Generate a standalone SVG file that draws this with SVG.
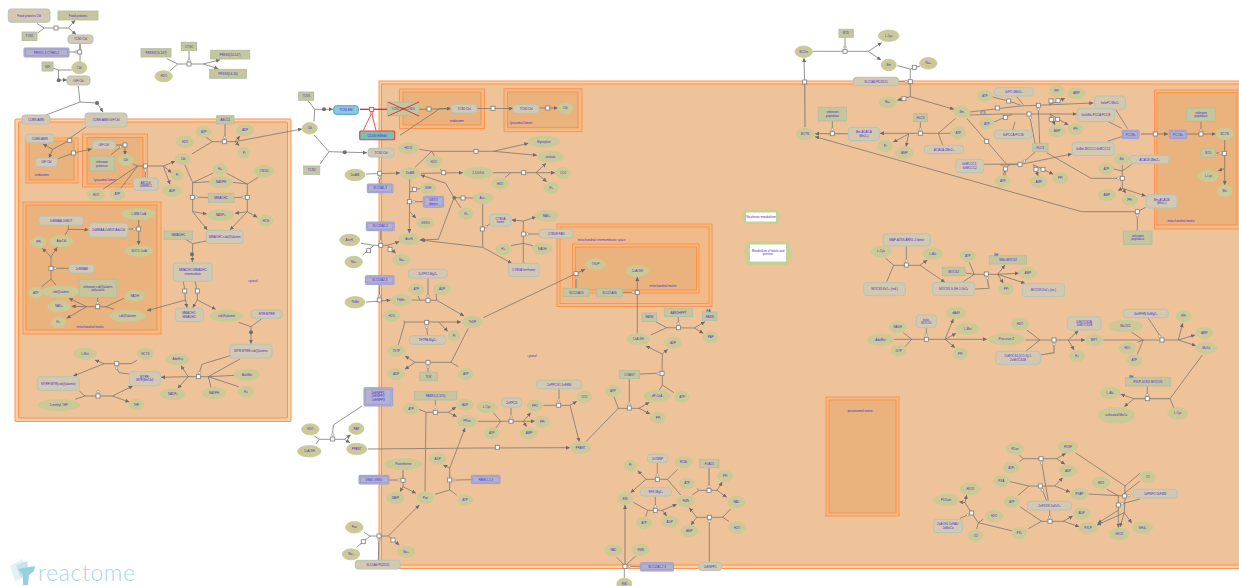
<svg xmlns="http://www.w3.org/2000/svg" xmlns:xlink="http://www.w3.org/1999/xlink" width="1239" height="586" viewBox="0 0 1239 586">
<style>
text{font-family:"Liberation Sans",Arial,sans-serif;font-size:3px;fill:#3f30d8;text-anchor:middle}
.co1{fill:#f7d3ac;stroke:#ff9350;stroke-width:1}
.co2{fill:#efc39a;stroke:#ff8f45;stroke-width:1}
.co3{fill:#f0bb88;stroke:#ff934d;stroke-width:1}
.co4{fill:#eab27c;stroke:#ff8f45;stroke-width:1}
.e{fill:#cdc996;stroke:#c3cc98;stroke-width:.9}
.p{fill:#c6c59c;stroke:#aebfa4;stroke-width:.9}
.c{fill:#d3c9b0;stroke:#b5c3b6;stroke-width:1}
.s{fill:#b4b2d0;stroke:#9c9fd2;stroke-width:1}
.si{fill:none;stroke:#8f92c2;stroke-width:.5}
.l,.a,.t{fill:none;stroke:#737270;stroke-width:.75}
.t{stroke:#94897a;stroke-width:1.2}
.a{marker-end:url(#ar)}
.rd{fill:none;stroke:#e8222a;stroke-width:.8}
.d{fill:#6f6f6d}
</style>
<defs>
<marker id="ar" markerUnits="userSpaceOnUse" markerWidth="5" markerHeight="5" refX="4" refY="2" orient="auto"><path d="M0 0L4 2L0 4Z" fill="#6b6b69"/></marker>
<rect id="r" x="-2" y="-2" width="4" height="4" fill="#fff" stroke="#7a7a78" stroke-width=".8"/>
<circle id="o" r="1.2" fill="#fff" stroke="#7a7a78" stroke-width=".6"/>
</defs>
<g id="compartments">
<rect class="co1" x="15" y="119" width="276" height="302.500" rx="1"/><rect class="co2" x="18.500" y="122" width="269" height="296" rx="1"/>
<rect class="co3" x="26" y="138" width="52" height="45"/><rect class="co4" x="29" y="141" width="45" height="39"/>
<rect class="co3" x="82.500" y="134" width="65" height="53"/><rect class="co4" x="87" y="137.500" width="56" height="46.500"/>
<rect class="co3" x="23" y="202" width="138" height="132"/><rect class="co4" x="26" y="205" width="131" height="125"/>
<rect class="co1" x="379" y="81" width="870" height="487.500"/><rect class="co2" x="381.500" y="84" width="870" height="481"/>
<rect class="co3" x="399.500" y="89" width="85" height="39.500"/><rect class="co4" x="403" y="92" width="78" height="33"/>
<rect class="co3" x="504" y="88.700" width="78" height="43"/><rect class="co4" x="507.500" y="92" width="70.500" height="35.700"/>
<rect class="co3" x="557" y="224" width="155" height="82.500"/><rect class="co3" x="560" y="227" width="149" height="76.500"/>
<rect class="co3" x="572.500" y="244" width="126.500" height="49"/><rect class="co4" x="575.500" y="247" width="121" height="43"/>
<rect class="co3" x="826" y="397" width="73" height="119"/><rect class="co4" x="829" y="400" width="67" height="113"/>
<rect class="co3" x="1154.500" y="90" width="90" height="139"/><rect class="co4" x="1157" y="92.700" width="80" height="132.300"/>
<text x="42" y="176">endosome</text><text x="105" y="181">lysosomal lumen</text><text x="90" y="327.500">mitochondrial matrix</text><text x="253" y="282">cytosol</text>
<text x="457" y="122">endosome</text><text x="521" y="124">lysosomal lumen</text><text x="601.700" y="241">mitochondrial intermembrane space</text><text x="663" y="287">mitochondrial matrix</text><text x="532" y="357">cytosol</text><text x="860" y="412">peroxisomal matrix</text><text x="1181" y="222">mitochondrial matrix</text>
</g>
<g id="connectors">
<path class="l" d="M37 23.500L44.300 28M37.700 33L44.300 28L68.500 28"/><path class="a" d="M68.500 28L75 20"/><path class="a" d="M68.500 28L76 34.500"/>
<path class="l" d="M69 52L76 52M80 43.500L80 63M58.300 70L53 68M72 70L58.300 70"/><path class="t" d="M80 43.500L80 50"/>
<path class="a" d="M58.300 70L58.700 80L67 80"/><circle class="d" cx="58.700" cy="80.300" r="2"/>
<path class="l" d="M78.300 86L80 102M46 115L80 102L97 103"/><path class="a" d="M97 103L103 112"/><circle class="d" cx="97" cy="103" r="2"/>
<path class="l" d="M166.700 58.500L177.700 64M170 70.700L177.700 64L203.300 64M189 50.700L189 60"/><path class="a" d="M203.300 64L220 59.700"/><path class="a" d="M203.300 64L218.300 68.700"/>
<path class="l" d="M225 124L225 137M191.700 154L212.300 141.700M203.700 135.500L212.300 141.700L235 141.700"/><path class="a" d="M235 141.700L240 136"/><path class="a" d="M235 141.700L239.300 145.700"/><path class="a" d="M235 141.700L302 129"/>
<path class="l" d="M86 127L69.700 138.300M69.700 140.300L52.700 149.300"/><path class="a" d="M52.700 149.300L43 144"/><path class="a" d="M52.700 149.300L49 158"/>
<path class="l" d="M58.300 158.700L73.300 153"/><path class="a" d="M73.300 153L91.700 149"/>
<path class="t" d="M115.500 145L125 145"/><path class="l" d="M111 154.700L120.700 147"/><path class="a" d="M125 146.700L125 155"/>
<path class="l" d="M132.700 164L137.700 166L163.300 166M145.300 177.500L145.300 172M103.300 189L137.700 166M120.700 188.500L137.700 166"/><path class="a" d="M163.300 166L175 161.300"/><path class="a" d="M163.300 166L171.700 172.700"/><path class="a" d="M163.300 166L170 184.300"/>
<path class="l" d="M185 165L192.700 182.700M213.300 173L192.700 182.700M210 181.700L192.700 182.700M226.700 173.300L247.300 184M232.300 182.300L247.300 184M258.300 177.300L247.300 184M192.700 182.700L192.300 197.300M247.300 184L247.300 197.300M208 197.500L197.800 197.300M234 197.500L242.200 197.300M192.700 197.300L192.700 211.700M247.300 197.300L247.300 211.700"/>
<path class="a" d="M192.700 211.700L206.700 214"/><path class="a" d="M192.700 211.700L207.300 230"/><path class="a" d="M247.300 211.700L235 213.300"/><path class="a" d="M247.300 211.700L230 230"/><path class="a" d="M247.300 211.700L257.300 217.300"/>
<path class="l" d="M206 241L192.700 243.700M185 239L192.700 243.700"/><path class="a" d="M192.700 243.700L192.300 262"/><circle class="d" cx="192" cy="254.300" r="2"/>
<path class="l" d="M183.300 281.500L185 291L185.300 300M195 281.500L197.300 291L197.300 300"/><path class="a" d="M185.500 300L147 310.700"/><path class="a" d="M185.500 300L187 307.700"/><path class="a" d="M197.300 300L192.700 307.700"/><path class="a" d="M197.300 300L215.700 309.300"/>
<path class="l" d="M238.700 322.300L251 326.700M261.700 318.700L251 326.700"/><path class="a" d="M251 326.700L251 343.700"/><circle class="d" cx="251" cy="332.300" r="2"/>
<path class="l" d="M240 359L208.300 376.700M235 375.300L208.300 376.700M211 387.300L208.300 376.700M238.700 386.700L208.300 376.700M230 355.700L202 364.300L199.300 372.700"/><path class="l" d="M208.300 376.700L188.300 376.700"/><path class="a" d="M188.300 376.700L161 377.300"/><path class="a" d="M188.300 376.700L181 365.700"/><path class="a" d="M188.300 376.700L177.700 388.300"/>
<path class="l" d="M137.300 360L131 363.700L104 363.700M129.300 374L119.300 372.700L116.700 368.300"/><path class="a" d="M104 363.700L95 360"/><path class="a" d="M104 363.700L73.300 376"/>
<path class="l" d="M79.300 391L85 396M75 399.300L85 396L112.300 396"/><path class="a" d="M112.300 396L132.700 386"/><path class="a" d="M112.300 396L129.300 402"/>
<path class="l" d="M68.300 225L68.300 229.300M65 235L68.300 229.300"/><path class="a" d="M68.300 229.300L88.500 229.700"/>
<path class="l" d="M128 229L134.300 229M138.700 219.500L138.700 229"/><path class="a" d="M138.700 229L138.700 245"/>
<path class="l" d="M51 268.300L51 256.700M51 268.300L51 279.300L41.700 286.700M51 279.300L56 285M69 268.300L55.300 268.300"/><path class="a" d="M51 256.700L42.300 248.300"/><path class="a" d="M51 256.700L57.300 247.300"/>
<path class="l" d="M86.700 306.700L106 306.700M124 298.300L106 306.700M114 309.300L106 306.700M97.700 302.700L97.700 297.700"/><path class="a" d="M86.700 306.700L69 298.300"/><path class="a" d="M86.700 306.700L71.700 306.300"/><path class="a" d="M86.700 306.700L66.700 318.300"/>
<path class="l" d="M308.300 101L314.700 109.300M314 121.700L314.700 109.300"/><path class="a" d="M314.700 109.300L333 109.300"/><circle class="d" cx="324" cy="109.300" r="2"/>
<path class="l" d="M314 135L329 151.700M320 164L329 151.700"/><path class="a" d="M329 151.700L367 152.700"/><circle class="d" cx="344.700" cy="152.300" r="2"/>
<path d="M360 109.300L387 109.300" fill="none" stroke="#e8222a" stroke-width="1.300"/><path class="rd" d="M363.300 130.500L371.700 113L376 130.500"/>
<path class="t" d="M419 109.300L451 108.700"/><path class="l" d="M400 135.300L440 108.500"/><path class="a" d="M440 108.500L451 108.500"/>
<path class="a" d="M477 108.500L513 108.500"/><path class="a" d="M539 108L557.500 108"/>
<path class="l" d="M419.300 149.300L431.700 151.300L493.300 151.300M415 167.300L431.700 151.300M435 156.700L431.700 151.300"/><path class="a" d="M493.300 151.300L528.300 143.300"/><path class="a" d="M493.300 151.300L537 155.300"/>
<path class="a" d="M366 174L400 173"/><path class="a" d="M421 173.300L463 172.700"/><path class="l" d="M440 169L443.700 172.700M379.700 179L379.700 184M492.700 172.700L536 172.700M505 177.700L510.700 172.700"/><path class="a" d="M536 172.700L546 163.300"/><path class="a" d="M536 172.700L555 172.700"/><path class="a" d="M536 172.700L546.700 181.700"/>
<path class="a" d="M409.700 179L409.300 233"/><path class="l" d="M414.300 191L410 192M420.500 188.500L416.500 189.300M414 201.700L423 201.700"/><path class="a" d="M410 212L416 218.300"/>
<path class="l" d="M473 198L454 197.700M461 208L454 197.700"/><path class="a" d="M454 197.700L445.700 183.300L420.700 175"/><path class="a" d="M454 197.700L438.300 239.300L419.700 240"/><circle class="d" cx="454.300" cy="197.700" r="1.800"/>
<path class="l" d="M482.700 204L482.700 247.300M486 226.700L491 223"/><path class="a" d="M482.700 247.300L421 240"/><path class="a" d="M482.700 247.300L511.700 263.300"/>
<path class="l" d="M523.300 221L523.300 263M511 245.700L523.300 243.300L533 245.700M527.700 234L539 234"/><path class="a" d="M523.300 221L511.700 220"/><path class="a" d="M523.300 221L536 217"/>
<path class="l" d="M361 243.300L374 245.300M362.700 255L374 245.300M374 245.300L387.300 245.300M380.700 231L380.700 241"/><path class="a" d="M387.300 245.300L399.300 241.700"/><path class="a" d="M387.300 245.300L395.700 253.300"/>
<path class="l" d="M379.300 284.500L379.300 296M428 278L428 296M411.700 300L436.700 300.300M418 296L420 300.300M436 294L436.700 300.300"/><path class="a" d="M366 302L390.500 300.300"/><path class="a" d="M436.700 300.300L464 316"/>
<path class="a" d="M405 322L461 322"/><path class="l" d="M398.300 345L405 322M403 321L405 322M427.500 335.500L426.700 327.300"/><path class="a" d="M439 322.300L447.700 331.300"/>
<path class="l" d="M415 362.300L451 362.300M451 362.300L468.300 328.300M451 362.300L458.300 366.700M428 372L428 367"/><path class="a" d="M415 362.300L405 356"/><path class="a" d="M415 362.300L405 369.300"/>
<path class="a" d="M483.300 317.700L585 269.300"/><path class="t" d="M576 278L576 288"/>
<path class="a" d="M637.300 333.300L637.300 277"/><path class="l" d="M623 292.300L631.700 292.300"/>
<path class="l" d="M678.300 316.700L678.300 323M655.700 321.700L666.700 327.700M650.700 335L666.700 327.700L694.300 328"/><path class="a" d="M694.300 328L705 321.700"/><path class="a" d="M694.300 328L703.300 333.300"/>
<path class="l" d="M640 374L657 373.300M662 373.300L662.300 354M662.300 373.300L662.300 385M662.300 385L659.300 390M662.300 385L674 392.700"/><path class="a" d="M662.300 354L646 346"/><path class="a" d="M662.300 354L667.700 349.300"/>
<path class="l" d="M629.300 379L629.300 402M618.300 408.300L639 408.300M614 397L618.300 408.300M618.300 408.300L586 441.700"/><path class="a" d="M639 408.300L649.300 402.300"/><path class="a" d="M639 408.300L650 414"/>
<path class="l" d="M559 389L559 399M543.300 405.300L570 405.300"/><path class="a" d="M570 405.300L576.700 401.300"/><path class="a" d="M570 405.300L579.300 441.700"/>
<path class="l" d="M511 407.500L511 415M478 421.300L523.300 421.300M493.300 412.700L500.700 421.300M495 429.300L500.700 421.300"/><path class="a" d="M523.300 421.300L530.700 412.700"/><path class="a" d="M523.300 421.300L535 421.300"/><path class="a" d="M523.300 421.300L526.500 426.700"/>
<path class="l" d="M435.300 400L435.300 405M418.300 409L426 412.300L448.300 412.300M426 412.300L425 491.700"/><path class="a" d="M448.300 412.300L456 407"/><path class="a" d="M448.300 412.300L456.700 416.700"/>
<path class="l" d="M362 406L333.300 425L332.700 433M314.300 436L319.300 439.300M316 444L319.300 439.300L344.300 439.300"/><path class="a" d="M344.300 439.300L350.700 435"/><path class="a" d="M344.300 439.300L350 442.700"/>
<path class="t" d="M367.700 449L480 448"/><path class="a" d="M480 448L570 447.700"/>
<path class="t" d="M403 470L403 480"/><path class="l" d="M389 480L397.500 480M403 480L403 486.700"/><path class="a" d="M403 486.700L400 491.700"/><path class="a" d="M403 486.700L416 493.300"/>
<path class="l" d="M435 494.300L449.700 490M456.700 495L449.700 490L449.700 468.300M455.500 480L471.500 479.700"/><path class="a" d="M449.700 468.300L443.300 465"/><path class="a" d="M449.700 468.300L465 428"/>
<path class="l" d="M364 532.300L370 536M356.700 547.300L370 536L388.300 536M378.300 560L378.800 541"/><path class="a" d="M388.300 536L419.300 505"/><path class="a" d="M388.300 536L399.300 545"/>
<path class="l" d="M657.300 462.700L657.300 473.500M646 479.300L667.300 479.300L677.700 469.300M667.300 479.300L680.700 495"/><path class="a" d="M646 479.300L637.700 470.700"/><path class="a" d="M646 479.300L630.700 492.700"/>
<path class="l" d="M655.300 496.500L655.300 505M633.300 502.300L647.700 510.300M645.700 516.700L647.700 510.300L662.300 510.300"/><path class="a" d="M662.300 510.300L676.700 504.300"/><path class="a" d="M662.300 510.300L666.700 516"/>
<path class="t" d="M709 468L709 485"/><path class="l" d="M692.300 495L699 490.300L717 490.300M696.700 488.300L699 490.300"/><path class="a" d="M717 490.300L722.300 482"/><path class="a" d="M717 490.300L726.700 497.300"/>
<path class="l" d="M709.300 561.700L709.300 522.500M696.700 517.300L722.700 517.300L730.700 509M722.700 517.300L729.300 521.700"/><path class="a" d="M696.700 517.300L689.300 507.700"/><path class="a" d="M696.700 517.300L691 525"/>
<path class="t" d="M625 566L625 520"/><path class="a" d="M625 520L625 505"/><path class="l" d="M616.700 557.300L625 566M635.700 556L625 566M624.300 578L624.300 569M630.500 566.300L640 566.700"/>
<path class="l" d="M813 51.300L868.300 51.300M845 38L845 45.800"/><path class="a" d="M868.300 51.300L881.700 42.700"/><path class="a" d="M868.300 51.300L881 60"/>
<path class="t" d="M805 127L804.700 85"/><path class="a" d="M804.700 85L804 58"/>
<path class="l" d="M897.300 65.700L910.300 69L920 66M910.300 69L910.300 96.700M898.500 81.700L904.800 81.700"/><path class="a" d="M910.300 96.700L954 109.300"/><path class="a" d="M910.300 96.700L897.300 100.300"/>
<path class="l" d="M955.700 118.300L938.300 133.300M950.700 133.300L938.300 133.300M938.300 133.300L942.700 145M920.400 122L920.300 127.800"/><path class="a" d="M938.300 133.300L880 133.300"/><path class="a" d="M908.700 134L893.300 142"/><path class="a" d="M908.700 134L906 146.700"/>
<path class="l" d="M832.300 121L832.300 128"/><path class="t" d="M848 133.700L825 133.700"/><path class="a" d="M825 133.700L815 133.700"/>
<path class="a" d="M1137.300 211.700L1081.700 211.700L815 136.700"/><path class="l" d="M1145.700 207.300L1137.300 211.700M1137.300 231L1137.300 216.800"/>
<path class="l" d="M966.700 118.300L1006.700 164.300M984 164.300L1020 164M1005.300 171L1005.300 175.500"/>
<path class="t" d="M970 112L1020 106"/><path class="a" d="M1020 106L1093.300 103"/><path class="t" d="M969.500 115L1000 114"/><path class="a" d="M1000 114L1076.700 114"/>
<path class="l" d="M992.300 97L1009 101L1020 105M994 122L1005 117.300L1012 114.500M1016.700 96.700L1023.300 104.700M1015 121.700L1012.700 130"/>
<path class="l" d="M1039.700 143L1038.400 110.500M1035 143.300L1030.300 118.900M1035 152L1024.300 161.500"/>
<path class="a" d="M1049.300 104.700L1053 98.300"/><path class="a" d="M1049.300 104.700L1065 98.300"/><path class="a" d="M1050 114L1055 125"/><path class="a" d="M1050 114L1068.300 125"/><path class="a" d="M1033.300 164.700L1038.300 176"/><path class="a" d="M1033.300 164.700L1053.300 174.300"/>
<path class="t" d="M1000 165L1021 164.300"/><path class="a" d="M1021 164.300L1071.700 154"/><path class="l" d="M1003 176L1005.300 169L1010 164.300"/>
<path class="l" d="M1046.700 152.700L1091 178.300L1117 178.300M1122.300 165L1122.300 188.300M1131.700 164.300L1122.300 171M1114 169L1122.300 171"/><path class="a" d="M1122.300 188.300L1118 190.700"/><path class="a" d="M1122.300 188.300L1126 193.300"/><path class="a" d="M1122.300 188.300L1145.700 196"/>
<path class="l" d="M1108.300 121.700L1121.700 128.300M1116 110L1127.700 128.700M1107.300 141.300L1121.700 136.700"/>
<path class="t" d="M1141 134L1160 134"/><path class="a" d="M1160 134L1168 134"/><path class="t" d="M1187 134L1205 134"/><path class="a" d="M1205 134L1215.500 134"/><path class="l" d="M1201 122L1201 128.800M1216 153L1219 153"/>
<path class="a" d="M1224.700 140L1224.700 185"/><path class="a" d="M1224.300 168.700L1218.300 170.700"/>
<path class="l" d="M906.300 246L906.300 259.500M885.700 258.300L893.700 265.300M886.700 281.700L893.700 265.300L920 265.300"/><path class="a" d="M920 265.300L927.300 260"/><path class="a" d="M920 265.300L945 282.300"/>
<path class="l" d="M965.700 273L974.300 274.300M969.300 262.300L974.300 274.300M963.300 281.700L974.300 274.300L997.700 274.300"/><path class="a" d="M997.700 274.300L1005 265"/><path class="a" d="M997.700 274.300L1003.300 283.300"/><path class="a" d="M997.700 274.300L1019 273.300"/><path class="a" d="M997.700 274.300L1025 283.300"/><path class="t" d="M974.700 289L989 288.300L987.300 279.300"/>
<path class="l" d="M926.300 328L926.300 333.800M903.300 332.700L911.700 339.300M905 346.700L911.700 339.300M893.700 339.300L945 339.300"/><path class="a" d="M945 339.300L987 339.300"/><path class="a" d="M945 339.300L953.300 319"/><path class="a" d="M945 339.300L956 333.300"/><path class="a" d="M945 339.300L955 347.700"/>
<path class="t" d="M1025.700 340L1068 340"/><path class="l" d="M1026.700 330L1040 340M1026 351L1040 340"/><path class="a" d="M1068 340L1085 340"/><path class="a" d="M1068.300 340L1078.300 330.700"/><path class="a" d="M1068.300 340L1074 350"/><path class="t" d="M1040.700 355L1054 352.700L1054 345.300"/>
<path class="l" d="M1148.300 318.300L1159.700 335.300M1131.700 332.300L1143.300 340M1137.300 342.300L1143.300 340M1137.300 354.300L1143.300 340"/><path class="t" d="M1103.300 340L1178.300 340"/><path class="a" d="M1178.300 340L1182.700 323.300"/><path class="a" d="M1178.300 340L1195 335"/><path class="a" d="M1178.300 340L1195.700 345.700"/>
<path class="l" d="M1147.300 386L1147.300 393.500M1170 398.700L1202.300 355M1170 398.700L1174 408.300"/><path class="t" d="M1134 398.700L1170 398.700"/><path class="a" d="M1134 398.700L1120.700 394.300"/><path class="a" d="M1134 398.700L1124.300 406.700"/>
<path class="l" d="M1019.300 455L1023.300 458.700M1019.300 462L1023.300 458.700L1056.700 458.700M1041.700 463L1048.300 500.700"/><path class="a" d="M1056.700 458.700L1065.700 453.300"/><path class="a" d="M1056.700 458.700L1065 464.300"/>
<path class="l" d="M1010 481.700L1029 486M1017.700 495.700L1029 486L1054.700 486M1042.300 490L1046.700 500.700"/><path class="a" d="M1054.700 486L1062.700 477.700"/><path class="a" d="M1054.700 486L1070 492"/>
<path class="l" d="M1020 506.700L1041.700 521.300M1028.300 528.700L1041.700 521.300L1063.300 521.300M1049.700 510L1049.700 516"/><path class="a" d="M1063.300 521.300L1072.700 516"/><path class="a" d="M1063.300 521.300L1079.300 526.700"/>
<path class="l" d="M960 518.300L967.700 515M1012.700 531L978.300 522.700M983.300 519.300L978.300 522.700M976.700 529.300L978.300 522.700L971.700 513L965 502.700"/><path class="a" d="M965 502.700L959.300 501.700"/><path class="a" d="M965 502.700L966.700 495"/>
<path class="l" d="M1075.300 452.700L1125 486L1124.700 496M1140 473.300L1125 486M1140 481L1124.700 493M1106.700 489.300L1119 496M1140 499L1122.300 503.700"/><path class="t" d="M1088.300 494L1124.700 496"/>
<path class="a" d="M1125 498L1124.300 512.700L1120 527"/><path class="a" d="M1118.300 496L1118.300 527.500"/><path class="a" d="M1124.300 512.700L1097 525"/><path class="a" d="M1118.700 510L1097.700 523.300"/><path class="a" d="M1124.300 512.700L1131.700 523"/>
<g id="reaction-points">
<use href="#r" x="56" y="28"/><use href="#r" x="79.700" y="52"/><use href="#o" x="76" y="52"/>
<use href="#r" x="189" y="64"/><use href="#o" x="189" y="60.300"/>
<use href="#r" x="224.300" y="141.700"/><use href="#o" x="224.300" y="137.300"/>
<use href="#r" x="69.700" y="140.300"/><use href="#r" x="73.300" y="153"/>
<use href="#r" x="125" y="145"/><use href="#o" x="120.700" y="147"/>
<use href="#r" x="145.300" y="166"/><use href="#o" x="145.300" y="170.300"/>
<use href="#r" x="192.300" y="197.300"/><use href="#o" x="196.700" y="197.300"/><use href="#r" x="247.300" y="197.300"/><use href="#o" x="243.300" y="197.300"/>
<use href="#r" x="184.700" y="291"/><use href="#r" x="197.300" y="291"/>
<use href="#r" x="198.300" y="376.700"/><use href="#o" x="199.300" y="372.700"/>
<use href="#r" x="116.700" y="363.700"/><use href="#o" x="116.700" y="368.300"/>
<use href="#r" x="98" y="396"/><use href="#o" x="98" y="391.700"/>
<use href="#r" x="138.700" y="229"/><use href="#o" x="134.300" y="229"/>
<use href="#r" x="51" y="268.300"/><use href="#o" x="55.300" y="268.300"/>
<use href="#r" x="97.700" y="306.700"/><use href="#o" x="97.700" y="302.700"/>
<use href="#r" x="429" y="109"/><use href="#r" x="493" y="108.300"/><use href="#r" x="547.700" y="108"/>
<use href="#r" x="476" y="151.300"/><use href="#r" x="379.700" y="173.300"/><use href="#o" x="379.700" y="177.700"/><use href="#r" x="443.700" y="172.700"/><use href="#r" x="523.700" y="172.700"/>
<use href="#r" x="414.300" y="189.300"/><use href="#r" x="409.300" y="201.700"/><use href="#o" x="414" y="201.700"/><use href="#r" x="463" y="198"/>
<use href="#r" x="482.300" y="229"/><use href="#o" x="486" y="226.700"/><use href="#r" x="523.700" y="234"/><use href="#o" x="527.700" y="234"/>
<use href="#r" x="380.700" y="245.300"/><use href="#o" x="380.700" y="241"/><use href="#r" x="368.700" y="250.700"/><use href="#r" x="390" y="249.300"/>
<use href="#r" x="379.300" y="300"/><use href="#o" x="379.300" y="296"/><use href="#r" x="428" y="300.300"/><use href="#o" x="428" y="296"/>
<use href="#r" x="426.700" y="322.300"/><use href="#o" x="426.700" y="327.300"/><use href="#r" x="428" y="362.300"/><use href="#o" x="428" y="367"/>
<use href="#r" x="576" y="273.700"/><use href="#o" x="576" y="278"/><use href="#r" x="637.300" y="292.300"/><use href="#o" x="633" y="292.300"/>
<use href="#r" x="678.300" y="327.700"/><use href="#o" x="678.300" y="323.700"/><use href="#r" x="662" y="373.300"/><use href="#o" x="658" y="373.300"/>
<use href="#r" x="629.300" y="408"/><use href="#o" x="629.300" y="404"/><use href="#r" x="558.700" y="405.300"/><use href="#o" x="558.700" y="401"/>
<use href="#r" x="511" y="421.300"/><use href="#o" x="511" y="417"/><use href="#r" x="435.300" y="412.300"/><use href="#o" x="435.300" y="407.300"/>
<use href="#r" x="332.700" y="439"/><use href="#o" x="332.700" y="434.700"/><use href="#r" x="497.300" y="447.300"/>
<use href="#r" x="403" y="480.300"/><use href="#o" x="398.700" y="480"/><use href="#r" x="449.700" y="480"/><use href="#o" x="454" y="480"/>
<use href="#r" x="379" y="536"/><use href="#o" x="379" y="540"/><use href="#r" x="363.300" y="541.700"/><use href="#r" x="393" y="540"/>
<use href="#r" x="657.300" y="479.300"/><use href="#o" x="657.300" y="475"/><use href="#r" x="655.300" y="510.300"/><use href="#o" x="655.300" y="506.300"/>
<use href="#r" x="709" y="490.300"/><use href="#o" x="709" y="486.300"/><use href="#r" x="709.300" y="517.300"/><use href="#o" x="709.300" y="521.300"/>
<use href="#r" x="625" y="566.300"/><use href="#o" x="629.300" y="566.300"/>
<use href="#r" x="845" y="51.300"/><use href="#o" x="845" y="47"/><use href="#r" x="804.700" y="82"/>
<use href="#r" x="910.300" y="81.700"/><use href="#o" x="906" y="81.700"/><use href="#r" x="914.300" y="67.300"/><use href="#r" x="904" y="98.700"/>
<use href="#r" x="920.300" y="133.300"/><use href="#o" x="920.300" y="129"/><use href="#r" x="832.300" y="133.700"/><use href="#o" x="832.300" y="129.300"/>
<use href="#r" x="1137.300" y="211.700"/><use href="#o" x="1137.300" y="215.700"/>
<circle cx="983" cy="112.700" r="2.200" fill="#b5b5a8" stroke="#7a7a78" stroke-width=".7"/>
<use href="#r" x="997.300" y="108"/><use href="#r" x="1008.700" y="101"/><use href="#r" x="1005.300" y="117.300"/><use href="#r" x="986.700" y="141.300"/><use href="#r" x="1005.300" y="169"/><use href="#r" x="1020" y="164.300"/><use href="#o" x="1024.300" y="161"/>
<use href="#r" x="1038.300" y="105.300"/><use href="#o" x="1038.300" y="109.300"/><use href="#r" x="1029" y="114"/><use href="#o" x="1030.300" y="117.700"/>
<use href="#r" x="1051" y="101"/><use href="#r" x="1058" y="100.700"/><use href="#r" x="1051.300" y="119.300"/><use href="#r" x="1057.700" y="119.300"/><use href="#r" x="1036" y="169.300"/><use href="#r" x="1043" y="169.300"/>
<use href="#r" x="1122.300" y="178.300"/><use href="#o" x="1118.300" y="178.300"/>
<use href="#r" x="1155.300" y="134"/><use href="#r" x="1201" y="134"/><use href="#o" x="1201" y="130"/><use href="#r" x="1224.300" y="153.300"/><use href="#o" x="1220.300" y="153"/>
<use href="#r" x="906.300" y="265"/><use href="#o" x="906.300" y="260.700"/><use href="#r" x="986.300" y="274"/><use href="#o" x="987.300" y="278.300"/>
<use href="#r" x="926.300" y="339.300"/><use href="#o" x="926.300" y="335"/><use href="#r" x="1054" y="340"/><use href="#o" x="1054" y="344.300"/><use href="#r" x="1162" y="340"/><use href="#o" x="1159.700" y="336.300"/>
<use href="#r" x="1147.300" y="398.700"/><use href="#o" x="1147.300" y="394.700"/>
<use href="#r" x="1041" y="458.700"/><use href="#o" x="1041.700" y="463"/><use href="#r" x="1040.300" y="486"/><use href="#o" x="1042.300" y="490"/><use href="#r" x="1050" y="521.300"/><use href="#o" x="1049.700" y="517"/>
<use href="#r" x="971.700" y="513"/><use href="#o" x="967.700" y="515"/><use href="#r" x="1124.700" y="496"/><use href="#o" x="1129" y="495.700"/><use href="#r" x="1118.300" y="505"/><use href="#o" x="1122.300" y="503.700"/>
<rect x="369.700" y="107.300" width="4" height="4" fill="#fff" stroke="#e8222a" stroke-width=".8"/><circle cx="371.700" cy="113" r="1.200" fill="#fff" stroke="#e8222a" stroke-width=".6"/>
</g>
</g>
<g id="n1"><rect class="c" x="8.300" y="9" width="41.700" height="13.300" rx="3"/><text x="29.200" y="16.500">Food proteins:Cbl</text></g>
<g id="n2"><rect class="p" x="58" y="11" width="40" height="9"/><text x="78" y="16.500">Food proteins</text></g>
<g id="n3"><rect class="p" x="22" y="32" width="15" height="8.500"/><text x="29.500" y="37.300">TCN1</text></g>
<g id="n4"><rect class="c" x="68" y="35" width="25" height="8.500" rx="3"/><text x="80.500" y="40.300">TCN1:Cbl</text></g>
<g id="n5"><rect class="s" x="24" y="48" width="45" height="9" rx="1"/><rect class="si" x="25.500" y="49.500" width="42" height="6"/><text x="46.500" y="53.500">PRSS1,3,CTRB1,2</text></g>
<g id="n6"><rect class="p" x="42" y="62" width="11" height="9"/><text x="47.500" y="67.500">GIF</text></g>
<g id="n7"><ellipse class="e" cx="79.300" cy="67.700" rx="7.500" ry="6"/><text x="79.300" y="68.700">Cbl</text></g>
<g id="n8"><rect class="c" x="67" y="76" width="23" height="9" rx="3"/><text x="78.500" y="81.500">GIF:Cbl</text></g>
<g id="n9"><rect class="c" x="22" y="115" width="28" height="9" rx="3"/><text x="36" y="120.500">CUBN:AMN</text></g>
<g id="n10"><rect class="c" x="85" y="113" width="42" height="14" rx="3"/><text x="106" y="121">CUBN:AMN:GIF:Cbl</text></g>
<g id="n11"><rect class="p" x="141" y="48.700" width="30" height="8.300"/><text x="156" y="54">PRSS3(16-247)</text></g>
<g id="n12"><rect class="p" x="181.300" y="42.300" width="15.300" height="8.300"/><text x="189" y="47.500">CTSC</text></g>
<g id="n13"><rect class="p" x="210.700" y="50.300" width="39" height="8.700"/><text x="230" y="55.700">PRSS3(24-247)</text></g>
<g id="n14"><ellipse class="e" cx="163.700" cy="76.300" rx="8.700" ry="5.500"/><text x="163.700" y="77.300">H2O</text></g>
<g id="n15"><rect class="p" x="209.700" y="69.300" width="36.700" height="9"/><text x="228" y="74.800">PRSS3(16-30)</text></g>
<g id="n16"><rect class="p" x="216.700" y="115.700" width="17.300" height="8.300"/><text x="225.300" y="121">ABCC1</text></g>
<g id="n17"><ellipse class="e" cx="203.700" cy="131.700" rx="7.500" ry="5.500"/><text x="203.700" y="132.700">ATP</text></g>
<g id="n18"><ellipse class="e" cx="185" cy="141.700" rx="9" ry="5.700"/><text x="185" y="142.700">H2O</text></g>
<g id="n19"><ellipse class="e" cx="245" cy="130" rx="8.500" ry="5.500"/><text x="245" y="131">ADP</text></g>
<g id="n20"><ellipse class="e" cx="244" cy="152.700" rx="6" ry="5.500"/><text x="244" y="153.700">Pi</text></g>
<g id="n21"><ellipse class="e" cx="183" cy="159" rx="7.500" ry="5.700"/><text x="183" y="160">Cbl</text></g>
<g id="n22"><rect class="c" x="92" y="140.700" width="23.300" height="8.700" rx="3"/><text x="103.700" y="146">GIF:Cbl</text></g>
<g id="n23"><rect class="p" x="89.300" y="156" width="25" height="15"/><text x="101.800" y="163">unknown</text><text x="101.800" y="166.500">protease</text></g>
<g id="n24"><ellipse class="e" cx="125.700" cy="160" rx="7.500" ry="5.500"/><text x="125.700" y="161">Cbl</text></g>
<g id="n25"><rect class="c" x="25.300" y="134.300" width="28.700" height="8.300" rx="3"/><text x="39.700" y="139.500">CUBN:AMN</text></g>
<g id="n26"><rect class="c" x="35.300" y="158" width="22" height="8.700" rx="3"/><text x="46.300" y="163.300">GIF:Cbl</text></g>
<g id="n27"><rect class="c" x="133.300" y="178" width="25" height="12.300" rx="3"/><text x="145.800" y="183.500">ABCD4:</text><text x="145.800" y="187">LMBRD1</text></g>
<g id="n28"><ellipse class="e" cx="96" cy="194.500" rx="8.700" ry="5.500"/><text x="96" y="195.500">H2O</text></g>
<g id="n29"><ellipse class="e" cx="117.300" cy="194" rx="7.500" ry="5.500"/><text x="117.300" y="195">ATP</text></g>
<g id="n30"><ellipse class="e" cx="177" cy="175" rx="6" ry="5.700"/><text x="177" y="176">Pi</text></g>
<g id="n31"><ellipse class="e" cx="172" cy="191" rx="9" ry="5.700"/><text x="172" y="192">ADP</text></g>
<g id="n32"><ellipse class="e" cx="220.300" cy="169" rx="7" ry="5.500"/><text x="220.300" y="170">H+</text></g>
<g id="n33"><ellipse class="e" cx="221" cy="182.300" rx="11.500" ry="5.500"/><text x="221" y="183.300">NADPH</text></g>
<g id="n34"><ellipse class="e" cx="264" cy="171" rx="10" ry="5.500"/><text x="264" y="172">CNCbl</text></g>
<g id="n35"><rect class="p" x="208.300" y="193.300" width="25.700" height="9"/><text x="221" y="198.700">MMACHC</text></g>
<g id="n36"><ellipse class="e" cx="220.700" cy="215" rx="13" ry="5.500"/><text x="220.700" y="216">NADP+</text></g>
<g id="n37"><ellipse class="e" cx="265.700" cy="220.700" rx="7.500" ry="5.500"/><text x="265.700" y="221.700">HCN</text></g>
<g id="n38"><rect class="c" x="206.300" y="230.300" width="36.700" height="13.300" rx="3"/><text x="224.700" y="238">MMACHC:cob(II)alamin</text></g>
<g id="n39"><rect class="p" x="164" y="231" width="28.700" height="8.300"/><text x="178.300" y="236.300">MMADHC</text></g>
<g id="n40"><rect class="c" x="173.300" y="263" width="39" height="18.300" rx="3"/><text x="192.800" y="271">MMACHC:MMADHC</text><text x="192.800" y="274.500">intermediate</text></g>
<g id="n41"><rect class="c" x="175.300" y="308.300" width="28" height="13.300" rx="3"/><text x="189.300" y="314">MMACHC:</text><text x="189.300" y="317.500">MMADHC</text></g>
<g id="n42"><ellipse class="e" cx="226.300" cy="315.700" rx="16.700" ry="5.700"/><text x="226.300" y="316.700">cob(II)alamin</text></g>
<g id="n43"><rect class="c" x="251.300" y="310" width="30.700" height="8.300" rx="3"/><text x="266.700" y="315">MTR:MTRR</text></g>
<g id="n44"><rect class="c" x="230" y="344.300" width="42" height="13.700" rx="3"/><text x="251" y="352">MTR:MTRR:cob(I)alamin</text></g>
<g id="n45"><rect class="c" x="39" y="216" width="44.300" height="9" rx="3"/><text x="61" y="221.500">2xMMAA:2xMUT</text></g>
<g id="n46"><rect class="c" x="89" y="223" width="39" height="14" rx="3"/><text x="108.500" y="231">2xMMAA:2xMUT:AdoCbl</text></g>
<g id="n47"><ellipse class="e" cx="61.300" cy="241" rx="11.500" ry="5.500"/><text x="61.300" y="242">AdoCbl</text></g>
<g id="n48"><ellipse class="e" cx="38.700" cy="242" rx="7.300" ry="5.500"/><text x="38.700" y="243">PPi</text></g>
<g id="n49"><ellipse class="e" cx="138.700" cy="214" rx="17" ry="5.500"/><text x="138.700" y="215">L-MM-CoA</text></g>
<g id="n50"><ellipse class="e" cx="139" cy="250.700" rx="14" ry="5.500"/><text x="139" y="251.700">SUCC-CoA</text></g>
<g id="n51"><rect class="c" x="69" y="264.300" width="25.300" height="8.700" rx="3"/><text x="81.700" y="269.700">2xMMAB</text></g>
<g id="n52"><ellipse class="e" cx="35.700" cy="292.700" rx="7" ry="5.500"/><text x="35.700" y="293.700">ATP</text></g>
<g id="n53"><ellipse class="e" cx="60.700" cy="291.700" rx="19" ry="5.500"/><text x="60.700" y="292.700">cob(I)alamin</text></g>
<g id="n54"><rect class="p" x="79" y="279.300" width="37.700" height="18.300"/><text x="97.800" y="287.500">unknown cob(I)alamin</text><text x="97.800" y="291">reductase</text></g>
<g id="n55"><ellipse class="e" cx="134.700" cy="296" rx="10" ry="5.500"/><text x="134.700" y="297">NADH</text></g>
<g id="n56"><ellipse class="e" cx="59" cy="306.300" rx="11.500" ry="5.500"/><text x="59" y="307.300">NAD+</text></g>
<g id="n57"><ellipse class="e" cx="58.300" cy="322.300" rx="7.300" ry="5.500"/><text x="58.300" y="323.300">H+</text></g>
<g id="n58"><ellipse class="e" cx="127.300" cy="315.700" rx="18" ry="5.700"/><text x="127.300" y="316.700">cob(II)alamin</text></g>
<g id="n59"><ellipse class="e" cx="85" cy="353.700" rx="11.700" ry="5.500"/><text x="85" y="354.700">L-Met</text></g>
<g id="n60"><ellipse class="e" cx="145.300" cy="353.700" rx="8.300" ry="5.500"/><text x="145.300" y="354.700">HCYS</text></g>
<g id="n61"><ellipse class="e" cx="177.700" cy="359.300" rx="11.500" ry="5.500"/><text x="177.700" y="360.300">AdoHcy</text></g>
<g id="n62"><ellipse class="e" cx="173" cy="394.300" rx="12.700" ry="5.500"/><text x="173" y="395.300">NADP+</text></g>
<g id="n63"><ellipse class="e" cx="214" cy="393" rx="11.500" ry="5.500"/><text x="214" y="394">NADPH</text></g>
<g id="n64"><ellipse class="e" cx="247" cy="374.700" rx="13" ry="5.500"/><text x="247" y="375.700">AdoMet</text></g>
<g id="n65"><ellipse class="e" cx="246" cy="391.700" rx="7.500" ry="5.500"/><text x="246" y="392.700">H+</text></g>
<g id="n66"><rect class="c" x="129.300" y="371.700" width="31" height="14" rx="3"/><text x="144.800" y="377.500">MTRR:</text><text x="144.800" y="381">MTR(MeCbl)</text></g>
<g id="n67"><rect class="c" x="37.300" y="376.700" width="42" height="13.700" rx="3"/><text x="58.300" y="384.500">MTRR:MTR(cob(I)alamin)</text></g>
<g id="n68"><ellipse class="e" cx="58.700" cy="405" rx="21" ry="5.500"/><text x="58.700" y="406">5-methyl-THF</text></g>
<g id="n69"><ellipse class="e" cx="136.300" cy="404.700" rx="7.500" ry="5.500"/><text x="136.300" y="405.700">THF</text></g>
<g id="n70"><rect class="p" x="298.700" y="92" width="15" height="8.300"/><text x="306.200" y="97.200">TCN1</text></g>
<g id="n71"><ellipse class="e" cx="309.700" cy="128.300" rx="7.500" ry="5.700"/><text x="309.700" y="129.300">Cbl</text></g>
<g id="n72"><rect class="p" x="303.700" y="166" width="16" height="8.300"/><text x="311.700" y="171.200">TCN2</text></g>
<g id="n73"><rect x="333.700" y="105.700" width="24.700" height="8.700" rx="3" fill="#8fc6dc" stroke="#48a6cf" stroke-width="1"/><text x="346" y="111">TCN1:EM</text></g>
<g id="n74"><rect class="c" x="368" y="148.300" width="26" height="8.700" rx="3"/><text x="381" y="153.700">TCN2:Cbl</text></g>
<g id="n75"><rect x="359.700" y="131" width="35" height="8.700" rx="1" fill="#7ebdb0" stroke="#ee3b40" stroke-width="1.100"/><text x="377.200" y="136.500">CD320 E88del</text></g>
<g id="n76"><rect class="p" x="387.300" y="102.300" width="31.700" height="13.300"/><text x="403" y="110">TCN2:Cbl:CD320</text><path d="M388 102L419 116M419 102L388 116" stroke="#e8222a" stroke-width=".9" fill="none"/></g>
<g id="n77"><rect class="c" x="451" y="104.300" width="26" height="8.700" rx="3"/><text x="464" y="109.700">TCN2:Cbl</text></g>
<g id="n78"><rect class="c" x="513" y="104.700" width="26" height="8.700" rx="3"/><text x="526" y="110">TCN2:Cbl</text></g>
<g id="n79"><ellipse class="e" cx="565.300" cy="108.300" rx="7.500" ry="5.500"/><text x="565.300" y="109.300">Cbl</text></g>
<g id="n80"><ellipse class="e" cx="408.300" cy="148.300" rx="10" ry="5.500"/><text x="408.300" y="149.300">H2O2</text></g>
<g id="n81"><ellipse class="e" cx="433.700" cy="161.700" rx="8.500" ry="5.500"/><text x="433.700" y="162.700">H2O</text></g>
<g id="n82"><ellipse class="e" cx="543.700" cy="141.700" rx="15.700" ry="5.500"/><text x="543.700" y="142.700">Glyoxylate</text></g>
<g id="n83"><ellipse class="e" cx="550.300" cy="156.700" rx="13" ry="5.500"/><text x="550.300" y="157.700">oxalate</text></g>
<g id="n84"><ellipse class="e" cx="355" cy="175" rx="10" ry="5.700"/><text x="355" y="176">DeAM</text></g>
<g id="n85"><ellipse class="e" cx="410" cy="173.300" rx="10" ry="5.700"/><text x="410" y="174.300">DeAM</text></g>
<g id="n86"><ellipse class="e" cx="478" cy="172.700" rx="14.500" ry="5.700"/><text x="478" y="173.700">2,3-DKG</text></g>
<g id="n87"><ellipse class="e" cx="500" cy="183.700" rx="8.500" ry="5.500"/><text x="500" y="184.700">H2O</text></g>
<g id="n88"><ellipse class="e" cx="563" cy="173" rx="7.500" ry="5.500"/><text x="563" y="174">CO2</text></g>
<g id="n89"><ellipse class="e" cx="551.300" cy="187.700" rx="7.500" ry="5.500"/><text x="551.300" y="188.700">H+</text></g>
<g id="n90"><rect class="s" x="367.300" y="184" width="25.700" height="8.700" rx="1"/><rect class="si" x="368.800" y="185.500" width="22.700" height="5.700"/><text x="380.200" y="189.300">SLC2A1,3</text></g>
<g id="n91"><ellipse class="e" cx="428" cy="188.300" rx="7.500" ry="5.500"/><text x="428" y="189.300">GSH</text></g>
<g id="n92"><rect class="s" x="423.300" y="196.300" width="20.300" height="11" rx="1"/><rect class="si" x="424.800" y="197.800" width="17.300" height="8"/><text x="433.500" y="201">GSTO</text><text x="433.500" y="204.500">dimers</text></g>
<g id="n93"><ellipse class="e" cx="425.300" cy="222.700" rx="8.700" ry="5.500"/><text x="425.300" y="223.700">GSSG</text></g>
<g id="n94"><ellipse class="e" cx="409.300" cy="239.300" rx="10" ry="5.700"/><text x="409.300" y="240.300">AscH-</text></g>
<g id="n95"><ellipse class="e" cx="483" cy="198.300" rx="10" ry="5.500"/><text x="483" y="199.300">Asc.-</text></g>
<g id="n96"><ellipse class="e" cx="466.300" cy="213.700" rx="7.500" ry="5.500"/><text x="466.300" y="214.700">H+</text></g>
<g id="n97"><rect class="c" x="490" y="214.300" width="21" height="12" rx="3"/><text x="500.500" y="219.500">CYB5A</text><text x="500.500" y="223">heme</text></g>
<g id="n98"><rect class="c" x="508.300" y="263.300" width="30.700" height="13.300" rx="3"/><text x="523.700" y="271">CYB5A ferriheme</text></g>
<g id="n99"><ellipse class="e" cx="546.700" cy="215.700" rx="11.500" ry="5.500"/><text x="546.700" y="216.700">NAD+</text></g>
<g id="n100"><ellipse class="e" cx="542.300" cy="248.700" rx="10" ry="5.500"/><text x="542.300" y="249.700">NADH</text></g>
<g id="n101"><ellipse class="e" cx="503.300" cy="249.300" rx="7.500" ry="5.500"/><text x="503.300" y="250.300">H+</text></g>
<g id="n102"><rect class="c" x="539.300" y="229.300" width="34" height="8.700" rx="3"/><text x="556.300" y="234.700">CYB5R:FAD</text></g>
<g id="n103"><rect class="s" x="366.300" y="222" width="28" height="8.700" rx="1"/><rect class="si" x="367.800" y="223.500" width="25" height="5.700"/><text x="380.300" y="227.300">SLC23A1,2</text></g>
<g id="n104"><ellipse class="e" cx="349.700" cy="240" rx="10" ry="5.700"/><text x="349.700" y="241">AscH-</text></g>
<g id="n105"><ellipse class="e" cx="353.700" cy="262" rx="8.700" ry="5.700"/><text x="353.700" y="263">Na+</text></g>
<g id="n106"><ellipse class="e" cx="401.700" cy="260" rx="8.700" ry="5.700"/><text x="401.700" y="261">Na+</text></g>
<g id="n107"><rect class="s" x="365.300" y="275.700" width="28.700" height="8.700" rx="1"/><rect class="si" x="366.800" y="277.200" width="25.700" height="5.700"/><text x="379.700" y="281">SLC19A2,3</text></g>
<g id="n108"><ellipse class="e" cx="355" cy="302.300" rx="10" ry="5.700"/><text x="355" y="303.300">ThMn</text></g>
<g id="n109"><ellipse class="e" cx="400.700" cy="300.300" rx="10" ry="5.700"/><text x="400.700" y="301.300">ThMn</text></g>
<g id="n110"><ellipse class="e" cx="416.300" cy="289.300" rx="7.500" ry="5.500"/><text x="416.300" y="290.300">ATP</text></g>
<g id="n111"><ellipse class="e" cx="442" cy="289.300" rx="8.500" ry="5.500"/><text x="442" y="290.300">ADP</text></g>
<g id="n112"><rect class="c" x="408.300" y="269.300" width="39" height="8.700" rx="3"/><text x="427.800" y="274.700">2xTPK1:Mg2+</text></g>
<g id="n113"><ellipse class="e" cx="472.300" cy="322" rx="10" ry="5.700"/><text x="472.300" y="323">ThDP</text></g>
<g id="n114"><ellipse class="e" cx="391.700" cy="315.700" rx="8.500" ry="5.500"/><text x="391.700" y="316.700">H2O</text></g>
<g id="n115"><ellipse class="e" cx="454" cy="335.700" rx="6" ry="5.500"/><text x="454" y="336.700">Pi</text></g>
<g id="n116"><ellipse class="e" cx="396.300" cy="351" rx="8.500" ry="5.500"/><text x="396.300" y="352">ThTP</text></g>
<g id="n117"><ellipse class="e" cx="396" cy="374.300" rx="8.500" ry="5.500"/><text x="396" y="375.300">ADP</text></g>
<g id="n118"><ellipse class="e" cx="465.700" cy="374" rx="7.500" ry="5.500"/><text x="465.700" y="375">ATP</text></g>
<g id="n119"><rect class="c" x="409.300" y="335.700" width="36.300" height="8.700" rx="3"/><text x="427.500" y="341">THTPA:Mg2+</text></g>
<g id="n120"><rect class="p" x="419.700" y="372.300" width="17.700" height="8.300"/><text x="428.500" y="377.500">TDK</text></g>
<g id="n121"><rect class="p" x="563.300" y="288.300" width="25.700" height="8.300"/><text x="576.200" y="293.500">SLC25A19</text></g>
<g id="n122"><rect class="p" x="596.700" y="288.700" width="25.700" height="8.300"/><text x="609.500" y="294">SLC25A16</text></g>
<g id="n123"><ellipse class="e" cx="595.700" cy="264.300" rx="10" ry="5.500"/><text x="595.700" y="265.300">ThDP</text></g>
<g id="n124"><ellipse class="e" cx="637.300" cy="271" rx="11.500" ry="5.500"/><text x="637.300" y="272">CoA-SH</text></g>
<g id="n125"><ellipse class="e" cx="638.300" cy="339.300" rx="11.500" ry="5.700"/><text x="638.300" y="340.300">CoA-SH</text></g>
<g id="n126"><rect class="p" x="642" y="313" width="14.700" height="8.700"/><text x="649.300" y="318.300">FASN</text></g>
<g id="n127"><rect class="p" x="664.300" y="308.300" width="28.300" height="8.300"/><text x="678.500" y="313.500">AASDHPPT</text></g>
<g id="n128"><rect class="p" x="702.300" y="312" width="14.700" height="8.300"/><text x="709.700" y="318">FASN</text><rect x="706" y="309.500" width="5" height="3.500" fill="#a9c3b2"/><text x="708.500" y="312.300">PA</text></g>
<g id="n129"><ellipse class="e" cx="710.700" cy="337.300" rx="7.500" ry="5.500"/><text x="710.700" y="338.300">PAP</text></g>
<g id="n130"><ellipse class="e" cx="673" cy="342.700" rx="8.500" ry="5.500"/><text x="673" y="343.700">ADP</text></g>
<g id="n131"><rect class="p" x="619.300" y="370.300" width="20.300" height="8.300"/><text x="629.500" y="375.500">COASY</text></g>
<g id="n132"><ellipse class="e" cx="657" cy="396" rx="13" ry="5.700"/><text x="657" y="397">dP-CoA</text></g>
<g id="n133"><ellipse class="e" cx="682" cy="396.700" rx="7.500" ry="5.500"/><text x="682" y="397.700">ATP</text></g>
<g id="n134"><ellipse class="e" cx="612.700" cy="391" rx="7.500" ry="5.700"/><text x="612.700" y="392">ATP</text></g>
<g id="n135"><ellipse class="e" cx="658" cy="417.700" rx="7.500" ry="5.500"/><text x="658" y="418.700">PPi</text></g>
<g id="n136"><rect class="c" x="536.700" y="380" width="45" height="8.700" rx="3"/><text x="559.200" y="385.500">2xPPCDC:2xFMN</text></g>
<g id="n137"><ellipse class="e" cx="584.300" cy="397" rx="7.500" ry="5.500"/><text x="584.300" y="398">CO2</text></g>
<g id="n138"><ellipse class="e" cx="535" cy="405.700" rx="7.500" ry="5.500"/><text x="535" y="406.700">PPC</text></g>
<g id="n139"><ellipse class="e" cx="542.300" cy="421.700" rx="7.500" ry="5.500"/><text x="542.300" y="422.700">PPi</text></g>
<g id="n140"><ellipse class="e" cx="529" cy="433.300" rx="8.500" ry="5.500"/><text x="529" y="434.300">AMP</text></g>
<g id="n141"><ellipse class="e" cx="580.300" cy="447.700" rx="10" ry="5.700"/><text x="580.300" y="448.700">PPANT</text></g>
<g id="n142"><rect class="c" x="501.700" y="398" width="20" height="9" rx="3"/><text x="511.700" y="403.500">2xPPCS</text></g>
<g id="n143"><ellipse class="e" cx="486.700" cy="407" rx="10" ry="5.500"/><text x="486.700" y="408">L-Cys</text></g>
<g id="n144"><ellipse class="e" cx="491.700" cy="433" rx="7.500" ry="5.500"/><text x="491.700" y="434">ATP</text></g>
<g id="n145"><ellipse class="e" cx="467" cy="421.300" rx="10" ry="5.700"/><text x="467" y="422.300">PPan</text></g>
<g id="n146"><ellipse class="e" cx="465" cy="404.700" rx="8.500" ry="5.500"/><text x="465" y="405.700">ADP</text></g>
<g id="n147"><ellipse class="e" cx="411" cy="408.700" rx="7.500" ry="5.500"/><text x="411" y="409.700">ATP</text></g>
<g id="n148"><rect class="p" x="414.300" y="391.700" width="42.300" height="8.300"/><text x="435.500" y="397">PANK1(1-570)</text></g>
<g id="n149"><rect class="s" x="364" y="387.700" width="28.700" height="18.300" rx="1"/><rect class="si" x="365.800" y="389.500" width="25.100" height="14.700"/><text x="378.300" y="393.500">2xENPP1,</text><text x="378.300" y="397">2xENPP2,</text><text x="378.300" y="400.500">2xENPP3</text></g>
<g id="n150"><ellipse class="e" cx="310.300" cy="429.300" rx="8.700" ry="5.500"/><text x="310.300" y="430.300">H2O</text></g>
<g id="n151"><ellipse class="e" cx="309.300" cy="451.300" rx="11.700" ry="5.700"/><text x="309.300" y="452.300">CoA-SH</text></g>
<g id="n152"><ellipse class="e" cx="356.300" cy="428.700" rx="7.500" ry="5.700"/><text x="356.300" y="429.700">PAP</text></g>
<g id="n153"><ellipse class="e" cx="356.700" cy="449" rx="10" ry="5.700"/><text x="356.700" y="450">PPANT</text></g>
<g id="n154"><ellipse class="e" cx="403.300" cy="464" rx="18.300" ry="5.700"/><text x="403.300" y="465">Pantetheine</text></g>
<g id="n155"><rect class="s" x="359" y="475.300" width="30" height="8.700" rx="1"/><rect class="si" x="360.500" y="476.800" width="27" height="5.700"/><text x="374" y="480.700">VNN1,VNN2</text></g>
<g id="n156"><ellipse class="e" cx="395.300" cy="498" rx="8.700" ry="5.500"/><text x="395.300" y="499">2AEP</text></g>
<g id="n157"><ellipse class="e" cx="425.300" cy="497.700" rx="8.700" ry="5.700"/><text x="425.300" y="498.700">Pan</text></g>
<g id="n158"><ellipse class="e" cx="437.700" cy="458.700" rx="8.500" ry="5.500"/><text x="437.700" y="459.700">ADP</text></g>
<g id="n159"><ellipse class="e" cx="465" cy="500" rx="7.500" ry="5.500"/><text x="465" y="501">ATP</text></g>
<g id="n160"><rect class="s" x="471.300" y="475.300" width="28.700" height="8.300" rx="1"/><rect class="si" x="472.800" y="476.800" width="25.700" height="5.300"/><text x="485.700" y="480.500">PANK1,2,3</text></g>
<g id="n161"><ellipse class="e" cx="354.300" cy="527.300" rx="8.700" ry="5.700"/><text x="354.300" y="528.300">Pan</text></g>
<g id="n162"><ellipse class="e" cx="351" cy="554.300" rx="8.700" ry="5.500"/><text x="351" y="555.300">Na+</text></g>
<g id="n163"><ellipse class="e" cx="406" cy="551.700" rx="8.700" ry="5.500"/><text x="406" y="552.700">Na+</text></g>
<g id="n164"><rect class="c" x="355.300" y="560.300" width="45" height="8.700" rx="3"/><text x="377.800" y="565.700">SLC5A6:PDZD11</text></g>
<g id="n165"><ellipse class="e" cx="630.300" cy="465.300" rx="6" ry="5.500"/><text x="630.300" y="466.300">Pi</text></g>
<g id="n166"><rect class="c" x="647.300" y="454.300" width="20.300" height="8.300" rx="3"/><text x="657.500" y="459.500">2xTBNP</text></g>
<g id="n167"><ellipse class="e" cx="683.700" cy="462.300" rx="8.700" ry="5.500"/><text x="683.700" y="463.300">RCBL</text></g>
<g id="n168"><rect class="p" x="699.700" y="459.300" width="19.300" height="8.300"/><text x="709.300" y="464.500">FLAD1</text></g>
<g id="n169"><ellipse class="e" cx="725" cy="476" rx="7.500" ry="5.500"/><text x="725" y="477">PPi</text></g>
<g id="n170"><ellipse class="e" cx="687" cy="483.300" rx="7.500" ry="5.500"/><text x="687" y="484.300">ATP</text></g>
<g id="n171"><ellipse class="e" cx="736.300" cy="502.300" rx="8.500" ry="5.700"/><text x="736.300" y="503.300">FAD</text></g>
<g id="n172"><ellipse class="e" cx="685.700" cy="501" rx="8.500" ry="5.700"/><text x="685.700" y="502">FMN</text></g>
<g id="n173"><ellipse class="e" cx="625" cy="498.700" rx="7.500" ry="5.700"/><text x="625" y="499.700">RIB</text></g>
<g id="n174"><rect class="c" x="640.300" y="487.700" width="31" height="8.300" rx="3"/><text x="655.800" y="492.900">RFK:Mg2+</text></g>
<g id="n175"><ellipse class="e" cx="644" cy="523" rx="7.500" ry="5.500"/><text x="644" y="524">ATP</text></g>
<g id="n176"><ellipse class="e" cx="669.700" cy="521.700" rx="8.700" ry="5.700"/><text x="669.700" y="522.700">ADP</text></g>
<g id="n177"><ellipse class="e" cx="689.300" cy="531" rx="8.700" ry="5.700"/><text x="689.300" y="532">AMP</text></g>
<g id="n178"><ellipse class="e" cx="737" cy="527.700" rx="8.700" ry="5.700"/><text x="737" y="528.700">H2O</text></g>
<g id="n179"><rect class="c" x="698.700" y="562.300" width="23" height="8.300" rx="3"/><text x="710.200" y="567.500">2xENPP1</text></g>
<g id="n180"><ellipse class="e" cx="613.300" cy="550.300" rx="8.500" ry="5.500"/><text x="613.300" y="551.300">FAD</text></g>
<g id="n181"><ellipse class="e" cx="640.700" cy="549.700" rx="8.700" ry="5.500"/><text x="640.700" y="550.700">FMN</text></g>
<g id="n182"><ellipse class="e" cx="624.300" cy="583.700" rx="7.500" ry="5.500"/><text x="624.300" y="584.700">RIB</text></g>
<g id="n183"><rect class="s" x="640.300" y="562.700" width="33.300" height="8.300" rx="1"/><rect class="si" x="641.800" y="564.200" width="30.300" height="5.300"/><text x="657" y="567.900">SLC52A1,2,3</text></g>
<g id="n184"><ellipse class="e" cx="803.700" cy="51.700" rx="8.700" ry="5.700"/><text x="803.700" y="52.700">BCDin</text></g>
<g id="n185"><rect class="p" x="839" y="29.300" width="14.300" height="8"/><text x="846" y="34.300">BTD</text></g>
<g id="n186"><ellipse class="e" cx="888.700" cy="35.700" rx="10.300" ry="5.700"/><text x="888.700" y="36.700">L-Lys</text></g>
<g id="n187"><ellipse class="e" cx="888.700" cy="65" rx="7.500" ry="5.700"/><text x="888.700" y="66">Btn</text></g>
<g id="n188"><ellipse class="e" cx="928.300" cy="63.300" rx="8.700" ry="5.700"/><text x="928.300" y="64.300">Na+</text></g>
<g id="n189"><rect class="c" x="853.300" y="77.300" width="45.300" height="8.300" rx="3"/><text x="876" y="82.500">SLC5A6:PDZD11</text></g>
<g id="n190"><ellipse class="e" cx="887.700" cy="102.300" rx="8.700" ry="5.500"/><text x="887.700" y="103.300">Na+</text></g>
<g id="n191"><ellipse class="e" cx="961.700" cy="111.700" rx="7.500" ry="5.700"/><text x="961.700" y="112.700">Btn</text></g>
<g id="n192"><ellipse class="e" cx="805" cy="134" rx="8.700" ry="5.700"/><text x="805" y="135">BCYN</text></g>
<g id="n193"><rect class="p" x="818.300" y="107.300" width="28.300" height="13.700"/><text x="832.500" y="113">unknown</text><text x="832.500" y="116.500">peptidase</text></g>
<g id="n194"><rect class="c" x="848.300" y="127.300" width="31" height="13.300" rx="3"/><text x="863.800" y="133">Btn-ACACA</text><text x="863.800" y="136.500">(Mn2+)</text></g>
<g id="n195"><rect class="p" x="913.700" y="113.700" width="13.700" height="8"/><text x="920.500" y="118.700">HLCS</text></g>
<g id="n196"><ellipse class="e" cx="958.300" cy="132.700" rx="7.500" ry="5.700"/><text x="958.300" y="133.700">ATP</text></g>
<g id="n197"><ellipse class="e" cx="885" cy="146" rx="7.500" ry="5.500"/><text x="885" y="147">Pi</text></g>
<g id="n198"><ellipse class="e" cx="904.300" cy="152.700" rx="8.700" ry="5.700"/><text x="904.300" y="153.700">AMP</text></g>
<g id="n199"><rect class="c" x="924.300" y="145.300" width="39.300" height="8.300" rx="3"/><text x="944" y="150.500">ACACA:2Mn2+</text></g>
<g id="n200"><rect class="c" x="955.700" y="159.300" width="28" height="13.300" rx="3"/><text x="969.700" y="165">6xMCCC1:</text><text x="969.700" y="168.500">6xMCCC2</text></g>
<g id="n201"><ellipse class="e" cx="1002.700" cy="181" rx="7.500" ry="5.500"/><text x="1002.700" y="182">ATP</text></g>
<g id="n202"><rect class="p" x="1123.300" y="231" width="28.700" height="13.300"/><text x="1137.700" y="236.500">unknown</text><text x="1137.700" y="240">peptidase</text></g>
<g id="n203"><rect class="c" x="1094.700" y="96" width="30.700" height="13.300" rx="3"/><text x="1110" y="103.700">holoPC:Mn2+</text></g>
<g id="n204"><rect class="c" x="1077.300" y="108.300" width="37" height="13.300" rx="3"/><text x="1095.800" y="116">holoBtn-PCCA:PCCB</text></g>
<g id="n205"><rect class="c" x="1072.300" y="142.300" width="42" height="13.300" rx="3"/><text x="1093.300" y="150">6xBtn-MCCC1:6xMCCC2</text></g>
<g id="n206"><rect class="c" x="994.300" y="87.700" width="39" height="8.300" rx="3"/><text x="1013.800" y="92.800">4xPC:4Mn2+</text></g>
<g id="n207"><rect class="c" x="994.300" y="130.300" width="38" height="8.400" rx="3"/><text x="1013.300" y="135.500">6xPCCA:PCCB</text></g>
<g id="n208"><ellipse class="e" cx="1056.700" cy="90.700" rx="7.500" ry="5.500"/><text x="1056.700" y="91.700">PPi</text></g>
<g id="n209"><ellipse class="e" cx="1076.300" cy="93.300" rx="8.700" ry="5.500"/><text x="1076.300" y="94.300">AMP</text></g>
<g id="n210"><ellipse class="e" cx="1057" cy="131.300" rx="8.700" ry="5.500"/><text x="1057" y="132.300">AMP</text></g>
<g id="n211"><ellipse class="e" cx="1075.700" cy="129" rx="7.500" ry="5.500"/><text x="1075.700" y="130">PPi</text></g>
<g id="n212"><ellipse class="e" cx="984.700" cy="95.700" rx="7.500" ry="5.500"/><text x="984.700" y="96.700">ATP</text></g>
<g id="n213"><ellipse class="e" cx="986.700" cy="123.700" rx="7.500" ry="5.500"/><text x="986.700" y="124.700">ATP</text></g>
<g id="n214"><rect class="p" x="1032.700" y="143.300" width="15.300" height="8.300"/><text x="1040.300" y="148.500">HLCS</text></g>
<g id="n215"><ellipse class="e" cx="1038.700" cy="181.700" rx="8.700" ry="5.700"/><text x="1038.700" y="182.700">AMP</text></g>
<g id="n216"><ellipse class="e" cx="1060.300" cy="178.300" rx="7.500" ry="5.700"/><text x="1060.300" y="179.300">PPi</text></g>
<g id="n217"><rect class="s" x="1122" y="130.300" width="17" height="8.300" rx="1"/><rect class="si" x="1123.500" y="131.800" width="14" height="5.300"/><text x="1130.500" y="135.500">PCCBs</text></g>
<g id="n218"><rect class="s" x="1169.300" y="130.300" width="17.300" height="8.300" rx="1"/><rect class="si" x="1170.800" y="131.800" width="14.300" height="5.300"/><text x="1178" y="135.500">PCCBs</text></g>
<g id="n219"><rect class="p" x="1186.700" y="108" width="28.700" height="13.300"/><text x="1201" y="113.500">unknown</text><text x="1201" y="117">peptidase</text></g>
<g id="n220"><ellipse class="e" cx="1224.700" cy="133.700" rx="8.700" ry="5.700"/><text x="1224.700" y="134.700">BCYN</text></g>
<g id="n221"><rect class="p" x="1201" y="148.700" width="14.700" height="8.700"/><text x="1208.300" y="154">BTD</text></g>
<g id="n222"><ellipse class="e" cx="1208.300" cy="176" rx="10" ry="5.700"/><text x="1208.300" y="177">L-Lys</text></g>
<g id="n223"><ellipse class="e" cx="1224.700" cy="191" rx="7.500" ry="5.700"/><text x="1224.700" y="192">Btn</text></g>
<g id="n224"><ellipse class="e" cx="1121.700" cy="159" rx="7.500" ry="5.500"/><text x="1121.700" y="160">Btn</text></g>
<g id="n225"><rect class="c" x="1130" y="155.300" width="39" height="8.300" rx="3"/><text x="1149.500" y="160.500">ACACB:2Mn2+</text></g>
<g id="n226"><ellipse class="e" cx="1106.300" cy="168.700" rx="7.500" ry="5.500"/><text x="1106.300" y="169.700">ATP</text></g>
<g id="n227"><ellipse class="e" cx="1106.700" cy="195" rx="8.700" ry="5.700"/><text x="1106.700" y="196">AMP</text></g>
<g id="n228"><ellipse class="e" cx="1129.700" cy="199.700" rx="7.500" ry="5.700"/><text x="1129.700" y="200.700">PPi</text></g>
<g id="n229"><rect class="c" x="1146.300" y="194.700" width="30.700" height="13.300" rx="3"/><text x="1161.700" y="200.500">Btn-ACACB</text><text x="1161.700" y="204">(Mn2+)</text></g>
<g id="n230"><rect class="c" x="883.300" y="233.700" width="47" height="12.300" rx="3"/><text x="906.800" y="241">MAP-A2SS-ARS1-2 dimer</text></g>
<g id="n231"><ellipse class="e" cx="881" cy="251.300" rx="10" ry="5.500"/><text x="881" y="252.300">L-Cys</text></g>
<g id="n232"><ellipse class="e" cx="932.700" cy="253.700" rx="10" ry="5.700"/><text x="932.700" y="254.700">L-Ala</text></g>
<g id="n233"><rect class="c" x="863.700" y="282.700" width="41.700" height="13" rx="3"/><text x="884.500" y="290.200">MOCS3:Zn2+ (red.)</text></g>
<g id="n234"><ellipse class="e" cx="967.700" cy="255.700" rx="7.500" ry="5.500"/><text x="967.700" y="256.700">ATP</text></g>
<g id="n235"><rect class="p" x="942.300" y="267.300" width="22.700" height="8.300"/><text x="953.700" y="272.500">MOCS2</text></g>
<g id="n236"><rect class="c" x="932.700" y="282.300" width="42" height="13.300" rx="3"/><text x="953.700" y="290">MOCS3-S-SH-1:Zn2+</text></g>
<g id="n237"><rect class="p" x="989.300" y="255.700" width="37" height="8.300"/><text x="1008" y="261">SMo-MOCS2</text><rect x="994" y="253.500" width="4.500" height="3.500" fill="#a9c3b2"/><text x="996.200" y="256.200">SH</text></g>
<g id="n238"><ellipse class="e" cx="1027.700" cy="273" rx="8.700" ry="5.500"/><text x="1027.700" y="274">AMP</text></g>
<g id="n239"><ellipse class="e" cx="1006" cy="289" rx="7.500" ry="5.700"/><text x="1006" y="290">PPi</text></g>
<g id="n240"><rect class="c" x="1022.300" y="283.700" width="42.300" height="13" rx="3"/><text x="1043.500" y="291">MOCS3:Zn2+ (ox.)</text></g>
<g id="n241"><ellipse class="e" cx="880.300" cy="339.700" rx="13" ry="5.700"/><text x="880.300" y="340.700">AdoMet</text></g>
<g id="n242"><ellipse class="e" cx="897.700" cy="327" rx="8.700" ry="5.500"/><text x="897.700" y="328">NADH</text></g>
<g id="n243"><ellipse class="e" cx="898.700" cy="350.700" rx="7.500" ry="5.500"/><text x="898.700" y="351.700">GTP</text></g>
<g id="n244"><rect class="c" x="916.300" y="315" width="20" height="12.700" rx="3"/><text x="926.300" y="320.500">holo-</text><text x="926.300" y="324">MOCS1</text></g>
<g id="n245"><ellipse class="e" cx="956" cy="312.700" rx="10" ry="5.700"/><text x="956" y="313.700">dAdS</text></g>
<g id="n246"><ellipse class="e" cx="967.700" cy="328.700" rx="11.700" ry="5.700"/><text x="967.700" y="329.700">L-Met</text></g>
<g id="n247"><ellipse class="e" cx="960.300" cy="353.700" rx="7.500" ry="5.700"/><text x="960.300" y="354.700">PPi</text></g>
<g id="n248"><ellipse class="e" cx="1006.300" cy="339.300" rx="18.300" ry="5.700"/><text x="1006.300" y="340.300">Precursor Z</text></g>
<g id="n249"><ellipse class="e" cx="1020" cy="324" rx="8.700" ry="5.700"/><text x="1020" y="325">H2O</text></g>
<g id="n250"><rect class="c" x="995.700" y="351.300" width="44.700" height="13" rx="3"/><text x="1018" y="357">2xMOCS2-[CO-S]-1:</text><text x="1018" y="360.500">2xMOCS2B</text></g>
<g id="n251"><rect class="c" x="1067.700" y="316.700" width="33.300" height="13.300" rx="3"/><text x="1084.300" y="322.500">2xMOCS2A:</text><text x="1084.300" y="326">2xMOCS2B</text></g>
<g id="n252"><ellipse class="e" cx="1094" cy="340.300" rx="8.700" ry="5.700"/><text x="1094" y="341.300">MPT</text></g>
<g id="n253"><ellipse class="e" cx="1077" cy="356" rx="7.500" ry="5.500"/><text x="1077" y="357">H+</text></g>
<g id="n254"><ellipse class="e" cx="1125.700" cy="326" rx="17" ry="5.700"/><text x="1125.700" y="327">MoO42-</text></g>
<g id="n255"><rect class="c" x="1123.300" y="309.300" width="45" height="8.300" rx="3"/><text x="1145.800" y="314.500">3xGPHN:3xMg2+</text></g>
<g id="n256"><ellipse class="e" cx="1127.300" cy="348" rx="8.700" ry="5.500"/><text x="1127.300" y="349">H2O</text></g>
<g id="n257"><ellipse class="e" cx="1134.300" cy="360.300" rx="7.500" ry="5.500"/><text x="1134.300" y="361.300">ATP</text></g>
<g id="n258"><ellipse class="e" cx="1183.700" cy="316.300" rx="7.500" ry="5.700"/><text x="1183.700" y="317.300">PPi</text></g>
<g id="n259"><ellipse class="e" cx="1204.300" cy="332.700" rx="8.700" ry="5.700"/><text x="1204.300" y="333.700">AMP</text></g>
<g id="n260"><ellipse class="e" cx="1206.300" cy="348.300" rx="10.300" ry="5.700"/><text x="1206.300" y="349.300">MoCo</text></g>
<g id="n261"><rect class="p" x="1125.300" y="377.300" width="45" height="8.700"/><text x="1147.800" y="382.700">PXLP-SCKX-MOCOS</text><rect x="1129" y="375" width="4.500" height="3.500" fill="#a9c3b2"/><text x="1131.200" y="377.700">SH</text></g>
<g id="n262"><ellipse class="e" cx="1110" cy="392.700" rx="10" ry="5.700"/><text x="1110" y="393.700">L-Ala</text></g>
<g id="n263"><ellipse class="e" cx="1116.300" cy="415.300" rx="18.300" ry="8"/><text x="1116.300" y="416.300">sulfurated MoCo</text></g>
<g id="n264"><ellipse class="e" cx="1177.700" cy="413.300" rx="10" ry="5.700"/><text x="1177.700" y="414.300">L-Cys</text></g>
<g id="n265"><ellipse class="e" cx="1015" cy="448.700" rx="8.700" ry="5.700"/><text x="1015" y="449.700">PDxn</text></g>
<g id="n266"><ellipse class="e" cx="1011" cy="467.700" rx="7.500" ry="5.500"/><text x="1011" y="468.700">ATP</text></g>
<g id="n267"><ellipse class="e" cx="1001.300" cy="480.700" rx="7.500" ry="5.700"/><text x="1001.300" y="481.700">PXA</text></g>
<g id="n268"><ellipse class="e" cx="1011.700" cy="501.700" rx="7.500" ry="5.700"/><text x="1011.700" y="502.700">ATP</text></g>
<g id="n269"><ellipse class="e" cx="1019.300" cy="532.700" rx="7.500" ry="5.700"/><text x="1019.300" y="533.700">PXL</text></g>
<g id="n270"><ellipse class="e" cx="1068" cy="446.700" rx="10" ry="5.700"/><text x="1068" y="447.700">PDXP</text></g>
<g id="n271"><ellipse class="e" cx="1068" cy="471" rx="8.700" ry="5.700"/><text x="1068" y="472">ADP</text></g>
<g id="n272"><ellipse class="e" cx="1079.300" cy="494" rx="8.700" ry="5.700"/><text x="1079.300" y="495">PXAP</text></g>
<g id="n273"><ellipse class="e" cx="1081.700" cy="513.300" rx="8.700" ry="5.700"/><text x="1081.700" y="514.300">ADP</text></g>
<g id="n274"><ellipse class="e" cx="1088" cy="528.300" rx="8.700" ry="5.700"/><text x="1088" y="529.300">PXLP</text></g>
<g id="n275"><ellipse class="e" cx="1101" cy="482.700" rx="8.700" ry="5.700"/><text x="1101" y="483.700">H2O</text></g>
<g id="n276"><ellipse class="e" cx="1147.700" cy="476.700" rx="7.500" ry="5.700"/><text x="1147.700" y="477.700">O2</text></g>
<g id="n277"><rect class="c" x="1133" y="489.300" width="44" height="8.700" rx="3"/><text x="1155" y="494.700">2xPNPO:2xFMN</text></g>
<g id="n278"><ellipse class="e" cx="1142.700" cy="527.700" rx="10" ry="5.700"/><text x="1142.700" y="528.700">NH4+</text></g>
<g id="n279"><ellipse class="e" cx="1119.300" cy="534" rx="10" ry="5.700"/><text x="1119.300" y="535">H2O2</text></g>
<g id="n280"><rect class="c" x="1027.300" y="501.300" width="44.300" height="8.700" rx="3"/><text x="1049.500" y="506.700">2xPDXK:2xZn2+</text></g>
<g id="n281"><ellipse class="e" cx="946" cy="500" rx="12.700" ry="5.700"/><text x="946" y="501">PDXate</text></g>
<g id="n282"><ellipse class="e" cx="970.300" cy="489" rx="10" ry="5.700"/><text x="970.300" y="490">H2O2</text></g>
<g id="n283"><ellipse class="e" cx="994" cy="516" rx="8.700" ry="5.700"/><text x="994" y="517">H2O</text></g>
<g id="n284"><ellipse class="e" cx="975.700" cy="535.700" rx="7.500" ry="5.700"/><text x="975.700" y="536.700">O2</text></g>
<g id="n285"><rect class="c" x="933.700" y="519.300" width="28.700" height="13.300" rx="3"/><text x="948" y="525">2xAOX1:2xFAD:</text><text x="948" y="528.500">2xMoCo</text></g>
<g id="n286"><polygon points="741,217 744,210 778,210 781,217 778,224 744,224" fill="#c8cf96"/><rect x="746" y="212.500" width="30" height="9" fill="#fff"/><text x="761" y="218">Nicotinate metabolism</text></g>
<g id="n287"><polygon points="744,253 747,241 788,241 792,253 788,265 747,265" fill="#c8cf96"/><rect x="750" y="244.500" width="36" height="17" fill="#fff"/><text x="768" y="251.500">Metabolism of folate and</text><text x="768" y="255">pterines</text></g>
<g id="logo">
<polygon points="10,566 22,559 25,570 24,578 15,581" fill="#e4f2f7"/>
<polygon points="16,565 27,561 29,573 24,578 20,577" fill="#c6e4ef"/>
<polygon points="18,569 35,566 34,571 29,575 28,585 23,585 23,575" fill="#97cfe2"/>
<text x="38" y="581" style="font-family:Lato,'Open Sans',sans-serif;font-size:23px;font-weight:300;fill:#a5d7e8;text-anchor:start" textLength="97">reactome</text>
</g>
</svg>
